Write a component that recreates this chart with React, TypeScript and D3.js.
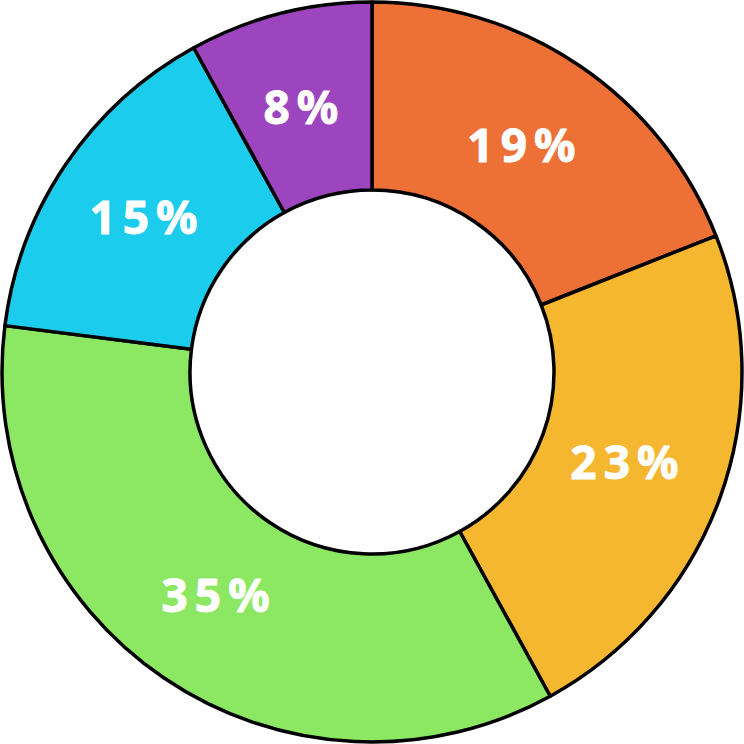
import React from "react";
import * as d3 from "d3";

const labels = ["19%", "23%", "35%", "15%", "8%"];
const values = [19, 23, 35, 15, 8];
const colors = ["#ED7136", "#F6B730", "#8CE862", "#1BCCEC", "#9C45BE"];

export default function App() {
  const W = 744;
  const H = 744;
  const cx = 372;
  const cy = 372;
  const outerR = 370;
  const innerR = 182;
  const labelR = 272;

  const pie = d3.pie<number>().sort(null).value((d) => d);
  const arcs = pie(values);
  const arc = d3.arc<d3.PieArcDatum<number>>().innerRadius(innerR).outerRadius(outerR);
  const labelArc = d3.arc<d3.PieArcDatum<number>>().innerRadius(labelR).outerRadius(labelR);

  return (
    <svg
      width={W}
      height={H}
      style={{ position: "absolute", left: 0, top: 0, background: "#fff" }}
    >
      <g transform={`translate(${cx},${cy})`}>
        {arcs.map((a, i) => (
          <path
            key={i}
            d={arc(a) || ""}
            fill={colors[i]}
            stroke="#000"
            strokeWidth={3.5}
            strokeLinejoin="round"
          />
        ))}
        {arcs.map((a, i) => {
          const [x, y] = labelArc.centroid(a);
          return (
            <text
              key={"t" + i}
              transform={`translate(${x},${y - 3})`}
              textAnchor="middle"
              dominantBaseline="central"
              fill="#fff"
              stroke="#fff"
              strokeWidth={1}
              strokeLinejoin="round"
              fontFamily="'Noto Sans', 'Open Sans', sans-serif"
              fontWeight={700}
              fontSize={46}
              letterSpacing={7}
            >
              {labels[i]}
            </text>
          );
        })}
      </g>
    </svg>
  );
}
